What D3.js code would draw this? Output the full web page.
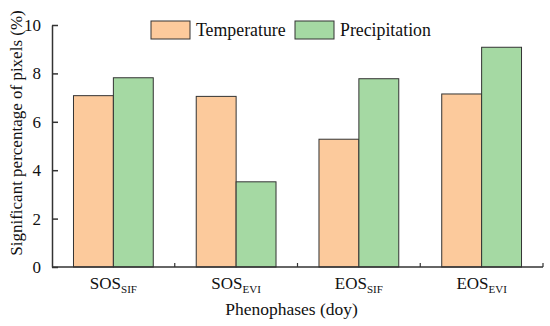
<!DOCTYPE html>
<html>
<head>
<meta charset="utf-8">
<script src="https://cdn.jsdelivr.net/npm/d3@7"></script>
<style>
  body { margin: 0; background: #fff; }
  text { font-family: "Liberation Serif", "Times New Roman", serif; fill: #111; }
</style>
</head>
<body>
<div id="SVG"></div>
<script>
// chart data
var categories = ["SOS_SIF", "SOS_EVI", "EOS_SIF", "EOS_EVI"];
var catMain = ["SOS", "SOS", "EOS", "EOS"];
var catSub = ["SIF", "EVI", "SIF", "EVI"];
var seriesNames = ["Temperature", "Precipitation"];
var temperature = [7.08, 7.05, 5.28, 7.15];
var precipitation = [7.82, 3.52, 7.78, 9.08];
var yTicks = [0, 2, 4, 6, 8, 10];

var colors = ["#fcca9c", "#a5d9a3"];

// SVG area
var svgWidth = 550;
var svgHeight = 326;

var chartMargin = { top: 25, right: 7, bottom: 59, left: 52 };
var chartWidth = svgWidth - chartMargin.left - chartMargin.right;
var chartHeight = svgHeight - chartMargin.top - chartMargin.bottom;

var svg = d3.select("#SVG")
  .append("svg")
  .attr("height", svgHeight)
  .attr("width", svgWidth);

var chartGroup = svg.append("g")
  .attr("transform", "translate(" + chartMargin.left + ", " + chartMargin.top + ")");

// scales
var xBandScale = d3.scaleBand().range([0, chartWidth]).domain(categories);
var xInner = d3.scaleBand().domain(seriesNames)
  .range([xBandScale.bandwidth() * 0.175, xBandScale.bandwidth() * 0.825]);
var yLinearScale = d3.scaleLinear().domain([0, 10]).range([chartHeight, 0]);

var table = categories.map(function (c, i) {
  return { cat: c, values: [temperature[i], precipitation[i]] };
});

// bars
var groups = chartGroup.selectAll(".grp")
  .data(table)
  .enter()
  .append("g")
  .attr("class", "grp")
  .attr("transform", function (d) { return "translate(" + xBandScale(d.cat) + ",0)"; });

groups.selectAll("rect")
  .data(function (d) {
    return d.values.map(function (v, j) { return { name: seriesNames[j], value: v, j: j }; });
  })
  .enter()
  .append("rect")
  .attr("x", function (d) { return xInner(d.name); })
  .attr("y", function (d) { return yLinearScale(d.value); })
  .attr("width", xInner.bandwidth())
  .attr("height", function (d) { return chartHeight - yLinearScale(d.value); })
  .attr("fill", function (d) { return colors[d.j]; })
  .attr("stroke", "#333")
  .attr("stroke-width", 1);

// y axis (ticks inward)
var leftAxis = d3.axisLeft(yLinearScale).tickValues(yTicks).tickSizeInner(-6).tickSizeOuter(0).tickPadding(11);
var yAxisG = chartGroup.append("g").call(leftAxis);
yAxisG.select(".domain").attr("stroke", "#333").attr("stroke-width", 1.5);
yAxisG.selectAll(".tick line").attr("stroke", "#333").attr("stroke-width", 1.5);
yAxisG.selectAll(".tick text")
  .style("font-family", "Liberation Serif")
  .style("font-size", "17px")
  .attr("fill", "#111");

// x axis: ticks at the category boundaries
var xAxisG = chartGroup.append("g")
  .attr("transform", "translate(0, " + chartHeight + ")");
xAxisG.append("line")
  .attr("x1", 0).attr("x2", chartWidth)
  .attr("stroke", "#333").attr("stroke-width", 1.5);
xAxisG.selectAll(".bnd")
  .data(categories)
  .enter()
  .append("line")
  .attr("class", "bnd")
  .attr("x1", function (d) { return xBandScale(d) + xBandScale.bandwidth(); })
  .attr("x2", function (d) { return xBandScale(d) + xBandScale.bandwidth(); })
  .attr("y1", 0).attr("y2", -4)
  .attr("stroke", "#333").attr("stroke-width", 1.2);

var labels = xAxisG.selectAll(".xl")
  .data(categories)
  .enter()
  .append("text")
  .attr("class", "xl")
  .attr("x", function (d) { return xBandScale(d) + xBandScale.bandwidth() / 2; })
  .attr("y", 22)
  .attr("text-anchor", "middle")
  .style("font-size", "17px");
labels.append("tspan").text(function (d, i) { return catMain[i]; });
labels.append("tspan")
  .attr("dy", 4)
  .style("font-size", "11px")
  .text(function (d, i) { return catSub[i]; });

// axis titles
svg.append("text")
  .attr("x", chartMargin.left + chartWidth / 2 - 6)
  .attr("y", 315)
  .attr("text-anchor", "middle")
  .style("font-size", "17.5px")
  .text("Phenophases (doy)");

svg.append("text")
  .attr("transform", "translate(22, 133) rotate(-90)")
  .attr("text-anchor", "middle")
  .style("font-size", "17px")
  .text("Significant percentage of pixels (%)");

// legend
var legend = svg.append("g").attr("transform", "translate(151, 21)");
var legendX = [0, 144];
seriesNames.forEach(function (name, j) {
  legend.append("rect")
    .attr("x", legendX[j]).attr("y", 0)
    .attr("width", 39).attr("height", 18)
    .attr("fill", colors[j])
    .attr("stroke", "#333").attr("stroke-width", 1);
  legend.append("text")
    .attr("x", legendX[j] + 45).attr("y", 15)
    .style("font-size", "17.8px")
    .text(name);
});
</script>
</body>
</html>
